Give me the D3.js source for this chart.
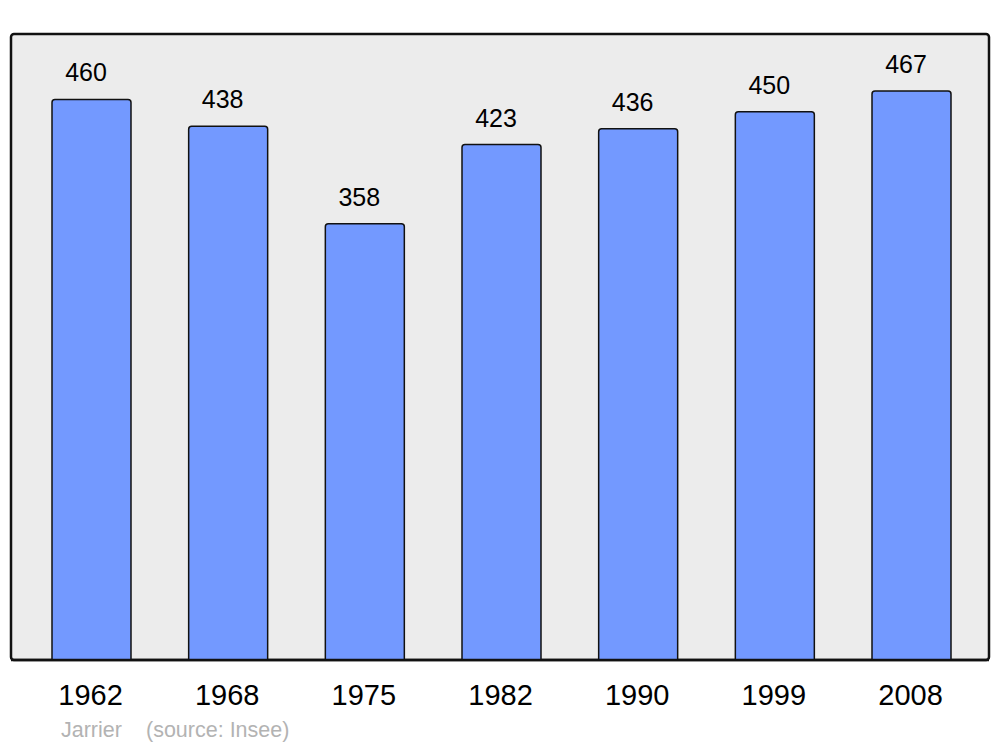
<!DOCTYPE html>
<html><head><meta charset="utf-8">
<script src="https://cdn.jsdelivr.net/npm/d3@7"></script>
<style>body{margin:0;background:#fff}svg{display:block;font-family:"Liberation Sans",Arial,sans-serif}</style>
</head><body>
<svg id="c" width="1000" height="747"></svg>
<script>
const years = ["1962","1968","1975","1982","1990","1999","2008"];
const population = [460,438,358,423,436,450,467];
const commune = "Jarrier";
const source = "(source: Insee)";

const svg = d3.select("#c");
const frame = {left: 11, right: 989, top: 34, bottom: 660};
const x = d3.scaleBand().domain(years).range([52, 951]).paddingInner(0.422).paddingOuter(0);
const y = d3.scaleLinear().domain([0, d3.max(population) * 1.1]).range([frame.bottom, frame.top]);

svg.append("defs").append("clipPath").attr("id", "clip")
  .append("rect").attr("x", 0).attr("y", 0).attr("width", 1000).attr("height", frame.bottom);

svg.append("rect").attr("x", frame.left).attr("y", frame.top)
  .attr("width", frame.right - frame.left).attr("height", frame.bottom - frame.top)
  .attr("rx", 3).attr("fill", "#ececec").attr("stroke", "#111").attr("stroke-width", 2.5);

const g = svg.append("g");
g.append("g").attr("clip-path", "url(#clip)")
  .selectAll("rect.bar").data(years).join("rect").attr("class", "bar")
  .attr("x", d => x(d)).attr("width", x.bandwidth())
  .attr("y", (d, i) => y(population[i]))
  .attr("height", (d, i) => frame.bottom - y(population[i]) + 6)
  .attr("rx", 3).attr("fill", "#7399ff").attr("stroke", "#111").attr("stroke-width", 1.5);

svg.append("line").attr("x1", frame.left).attr("x2", frame.right)
  .attr("y1", frame.bottom).attr("y2", frame.bottom).attr("stroke", "#111").attr("stroke-width", 2.5);

g.selectAll("text.val").data(years).join("text").attr("class", "val")
  .attr("x", d => x(d) + x.bandwidth() / 2 - 5.5)
  .attr("y", (d, i) => y(population[i]) - 18)
  .attr("text-anchor", "middle").attr("font-size", 25).attr("fill", "#000")
  .text((d, i) => population[i]);

const xAxis = svg.append("g").attr("transform", `translate(0,${frame.bottom})`)
  .call(d3.axisBottom(x).tickSize(0).tickPadding(24));
xAxis.select(".domain").remove();
xAxis.selectAll("text").attr("font-size", 29).attr("fill", "#000")
  .attr("font-family", "Liberation Sans, Arial, sans-serif").attr("dx", -1);

svg.append("text").attr("x", 61).attr("y", 737).attr("font-size", 21.5).attr("fill", "#b3b3b3").text(commune);
svg.append("text").attr("x", 146).attr("y", 737).attr("font-size", 21.5).attr("fill", "#b3b3b3").text(source);
</script>
</body></html>
